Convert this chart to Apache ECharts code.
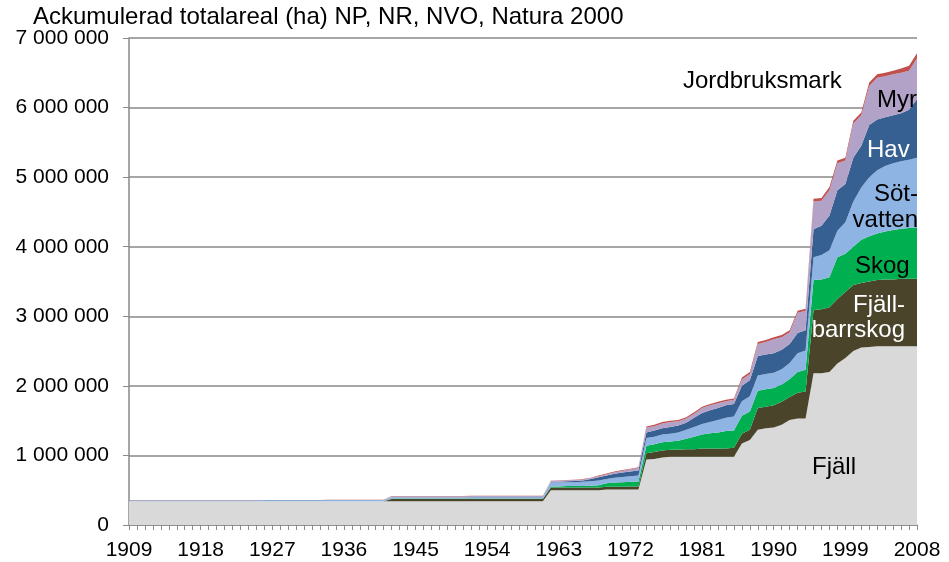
<!DOCTYPE html>
<html>
<head>
<meta charset="utf-8">
<script src="https://cdn.jsdelivr.net/npm/echarts@6/dist/echarts.min.js"></script>
<style>
  html, body { margin: 0; padding: 0; background: #fff; }
  #chart { width: 949px; height: 562px; }
</style>
</head>
<body>
<div id="chart"></div>
<script>
// Years on the x axis, 1909-2008
const years = [];
for (let y = 1909; y <= 2008; y++) years.push(String(y));

const yTicks = [0, 1000000, 2000000, 3000000, 4000000, 5000000, 6000000, 7000000];

// Accumulated area (ha) per land type, one value per year
const fjall = [
  // 1909-1941
  340000, 340000, 340000, 340000, 340000, 340000, 340000, 340000, 340000, 340000, 340000,
  340000, 340000, 340000, 340000, 340000, 340000, 340000, 340000, 340000, 340000, 340000,
  340000, 340000, 340000, 340000, 340000, 340000, 340000, 340000, 340000, 340000, 340000,
  // 1942-1961
  340000, 340000, 340000, 340000, 340000, 340000, 340000, 340000, 340000, 340000,
  340000, 340000, 340000, 340000, 340000, 340000, 340000, 340000, 340000, 340000,
  // 1962-1973
  500000, 500000, 500000, 500000, 500000, 500000, 500000, 510000, 510000, 510000, 510000, 510000,
  // 1974-1985
  940000, 950000, 970000, 980000, 980000, 980000, 980000, 980000, 980000, 980000, 980000, 980000,
  // 1986-1994
  1170000, 1220000, 1370000, 1390000, 1400000, 1440000, 1510000, 1530000, 1530000,
  // 1995-2008
  2180000, 2180000, 2200000, 2320000, 2400000, 2500000, 2550000, 2560000, 2570000, 2570000,
  2570000, 2570000, 2570000, 2570000
];

const fjallbarrskog = [
  // 1909-1941
  0, 0, 0, 0, 0, 0, 0, 0, 0, 0, 0,
  0, 0, 0, 0, 0, 0, 0, 0, 0, 0, 0,
  0, 0, 0, 0, 0, 0, 0, 0, 0, 0, 0,
  // 1942-1961
  35000, 35000, 35000, 35000, 35000, 35000, 35000, 35000, 35000, 35000,
  35000, 35000, 35000, 35000, 35000, 35000, 35000, 35000, 35000, 35000,
  // 1962-1973
  40000, 40000, 40000, 40000, 40000, 40000, 40000, 40000, 40000, 40000, 45000, 45000,
  // 1974-1985
  90000, 100000, 100000, 100000, 100000, 110000, 110000, 120000, 120000, 120000, 120000, 130000,
  // 1986-1994
  140000, 150000, 310000, 310000, 320000, 330000, 330000, 370000, 390000,
  // 1995-2008
  910000, 920000, 930000, 930000, 950000, 950000, 930000, 940000, 950000, 960000,
  960000, 970000, 970000, 970000
];

const skog = [
  // 1909-1941
  3000, 3000, 3000, 3000, 3000, 3000, 3000, 3000, 3000, 3000, 3000,
  3000, 3000, 3000, 3000, 3000, 3000, 3000, 3000, 3000, 3000, 3000,
  3000, 3000, 3000, 3000, 3000, 3000, 3000, 3000, 3000, 3000, 3000,
  // 1942-1961
  6000, 6000, 6000, 6000, 6000, 6000, 6000, 6000, 6000, 6000,
  6000, 6000, 6000, 6000, 6000, 6000, 6000, 6000, 6000, 6000,
  // 1962-1973
  15000, 15000, 20000, 20000, 20000, 25000, 30000, 50000, 60000, 65000, 65000, 70000,
  // 1974-1985
  110000, 110000, 120000, 120000, 130000, 150000, 180000, 200000, 220000, 230000, 250000, 250000,
  // 1986-1994
  260000, 260000, 250000, 250000, 250000, 250000, 260000, 300000, 310000,
  // 1995-2008
  430000, 430000, 430000, 600000, 550000, 550000, 620000, 650000, 670000, 690000,
  710000, 720000, 730000, 740000
];

const sotvatten = [
  // 1909-1941
  12000, 12000, 12000, 12000, 12000, 12000, 12000, 12000, 12000, 12000, 12000,
  12000, 12000, 12000, 12000, 12000, 12000, 14000, 14000, 14000, 14000, 14000,
  14000, 14000, 14000, 16000, 16000, 16000, 16000, 16000, 16000, 16000, 16000,
  // 1942-1961
  15000, 15000, 15000, 15000, 15000, 15000, 15000, 15000, 15000, 15000,
  17000, 17000, 17000, 17000, 17000, 17000, 17000, 17000, 17000, 17000,
  // 1962-1973
  58000, 58000, 53000, 53000, 60000, 65000, 70000, 60000, 70000, 75000, 80000, 85000,
  // 1974-1985
  110000, 110000, 110000, 110000, 120000, 130000, 140000, 150000, 160000, 180000, 190000, 200000,
  // 1986-1994
  210000, 220000, 220000, 220000, 220000, 220000, 230000, 270000, 280000,
  // 1995-2008
  330000, 350000, 390000, 380000, 450000, 650000, 750000, 850000, 910000, 940000,
  960000, 970000, 980000, 1000000
];

const hav = [
  // 1909-1941
  1000, 1000, 1000, 1000, 1000, 1000, 1000, 1000, 1000, 1000, 1000,
  1000, 1000, 1000, 1000, 1000, 1000, 1000, 1000, 1000, 1000, 1000,
  1000, 1000, 1000, 1000, 1000, 1000, 1000, 1000, 1000, 1000, 1000,
  // 1942-1961
  4000, 4000, 4000, 4000, 4000, 4000, 4000, 4000, 4000, 4000,
  4000, 4000, 4000, 4000, 4000, 4000, 4000, 4000, 4000, 4000,
  // 1962-1973
  5000, 10000, 15000, 20000, 20000, 30000, 45000, 50000, 55000, 65000, 70000, 75000,
  // 1974-1985
  80000, 90000, 90000, 100000, 100000, 100000, 130000, 160000, 170000, 170000, 180000, 180000,
  // 1986-1994
  220000, 230000, 280000, 280000, 280000, 280000, 270000, 290000, 290000,
  // 1995-2008
  400000, 420000, 500000, 580000, 550000, 630000, 600000, 750000, 730000, 700000,
  690000, 690000, 720000, 840000
];

const myr = [
  // 1909-1941
  1000, 1000, 1000, 1000, 1000, 1000, 1000, 1000, 1000, 1000, 1000,
  1000, 1000, 1000, 1000, 1000, 1000, 1000, 1000, 1000, 1000, 1000,
  1000, 1000, 1000, 1000, 1000, 1000, 1000, 1000, 1000, 1000, 1000,
  // 1942-1961
  14000, 14000, 14000, 14000, 14000, 14000, 14000, 14000, 14000, 14000,
  16000, 16000, 16000, 16000, 16000, 16000, 16000, 16000, 16000, 16000,
  // 1962-1973
  15000, 15000, 15000, 15000, 15000, 15000, 15000, 20000, 25000, 25000, 30000, 35000,
  // 1974-1985
  70000, 60000, 70000, 70000, 60000, 60000, 60000, 70000, 70000, 70000, 60000, 60000,
  // 1986-1994
  90000, 90000, 170000, 180000, 200000, 180000, 170000, 290000, 280000,
  // 1995-2008
  400000, 360000, 360000, 390000, 340000, 490000, 440000, 560000, 600000, 590000,
  590000, 580000, 560000, 590000
];

const jordbruksmark = [
  // 1909-1941
  1000, 1000, 1000, 1000, 1000, 1000, 1000, 1000, 1000, 1000, 1000,
  1000, 1000, 1000, 1000, 1000, 1000, 1000, 1000, 1000, 1000, 1000,
  1000, 1000, 1000, 1000, 1000, 1000, 1000, 1000, 1000, 1000, 1000,
  // 1942-1961
  3000, 3000, 3000, 3000, 3000, 3000, 3000, 3000, 3000, 3000,
  3000, 3000, 3000, 3000, 3000, 3000, 3000, 3000, 3000, 3000,
  // 1962-1973
  4000, 4000, 4000, 4000, 5000, 5000, 10000, 10000, 10000, 10000, 10000, 10000,
  // 1974-1985
  15000, 20000, 20000, 20000, 20000, 20000, 20000, 20000, 20000, 20000, 20000, 20000,
  // 1986-1994
  30000, 30000, 30000, 30000, 30000, 30000, 30000, 30000, 30000,
  // 1995-2008
  40000, 40000, 50000, 40000, 40000, 40000, 40000, 50000, 50000, 50000,
  50000, 60000, 70000, 70000
];

const seriesNames = ['Fjäll', 'Fjällbarrskog', 'Skog', 'Sötvatten', 'Hav', 'Myr', 'Jordbruksmark'];
const seriesData = [fjall, fjallbarrskog, skog, sotvatten, hav, myr, jordbruksmark];
const seriesColors = ['#d9d9d9', '#4a452a', '#00b050', '#8db4e2', '#366092', '#b3a2c7', '#c0504d'];

const FONT = "'Liberation Sans', Arial, sans-serif";
const GRID_COLOR = '#898989';

function spaced(v) {
    return String(v).replace(/\B(?=(\d{3})+(?!\d))/g, ' ');
}

const chart = echarts.init(document.getElementById('chart'), null, { renderer: 'canvas' });

// in-chart text labels for the layers (x, y = anchor point, vertically centred)
function label(text, x, y, color, align, lineHeight) {
    return {
        type: 'text',
        x: x,
        y: y,
        z: 100,
        silent: true,
        style: {
            text: text,
            fill: color,
            font: '24px ' + FONT,
            align: align || 'left',
            verticalAlign: 'middle',
            lineHeight: lineHeight || 26
        }
    };
}

const option = {
    animation: false,
    backgroundColor: '#fff',
    title: {
        text: 'Ackumulerad totalareal (ha) NP, NR, NVO, Natura 2000',
        left: 33,
        top: 5,
        padding: 0,
        textStyle: { fontFamily: FONT, fontSize: 24, fontWeight: 'normal', color: '#000' }
    },
    grid: { left: 129, right: 32, top: 38, bottom: 37, containLabel: false },
    xAxis: {
        type: 'category',
        data: years,
        boundaryGap: false,
        axisLine: { lineStyle: { color: GRID_COLOR, width: 1.5 } },
        axisTick: { show: true, interval: 0, length: 5, lineStyle: { color: GRID_COLOR } },
        axisLabel: { interval: 8, fontFamily: FONT, fontSize: 21, color: '#000', margin: 15 },
        splitLine: { show: false }
    },
    yAxis: {
        type: 'value',
        min: yTicks[0],
        max: yTicks[yTicks.length - 1],
        interval: 1000000,
        axisLine: { show: true, lineStyle: { color: GRID_COLOR, width: 1.5 } },
        axisTick: { show: true, length: 6, lineStyle: { color: GRID_COLOR } },
        axisLabel: { fontFamily: FONT, fontSize: 21, color: '#000', margin: 20, formatter: spaced },
        splitLine: { lineStyle: { color: GRID_COLOR, width: 1.5 } }
    },
    series: seriesNames.map((name, i) => ({
        name: name,
        type: 'line',
        stack: 'total',
        data: seriesData[i],
        symbol: 'none',
        lineStyle: { width: 0 },
        areaStyle: { color: seriesColors[i], opacity: 1 },
        emphasis: { disabled: true },
        z: 2
    })),
    graphic: [
        label('Jordbruksmark', 683, 81, '#000'),
        label('Myr', 877, 100, '#000'),
        label('Hav', 867, 150, '#fff'),
        label('Söt-\nvatten', 918, 207, '#000', 'right', 26),
        label('Skog', 855, 266, '#000'),
        label('Fjäll-\nbarrskog', 905, 318, '#fff', 'right', 25),
        label('Fjäll', 812, 467, '#000')
    ]
};

chart.setOption(option);
</script>
</body>
</html>
